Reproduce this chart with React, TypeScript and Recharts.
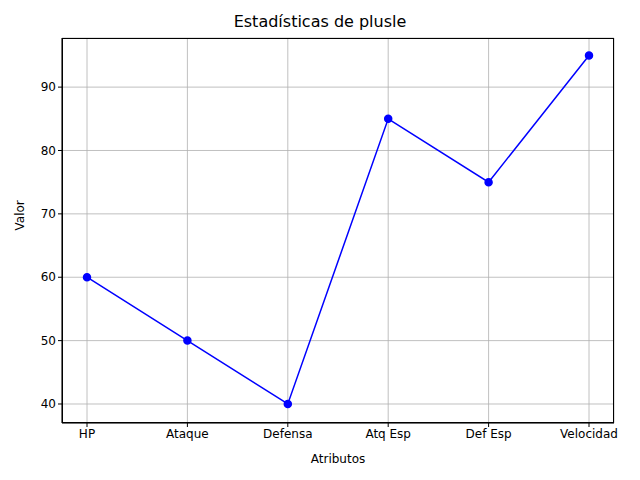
import { LineChart, Line, XAxis, YAxis, CartesianGrid } from 'recharts';

const atributos = ['HP', 'Ataque', 'Defensa', 'Atq Esp', 'Def Esp', 'Velocidad'];
const valores = [60, 50, 40, 85, 75, 95];
const yTicks = [40, 50, 60, 70, 80, 90];

const data = atributos.map((a, i) => ({ atributo: a, valor: valores[i] }));
const font = 'DejaVu Sans, sans-serif';

export default function App() {
  return (
    <div style={{ position: 'absolute', left: 0, top: 0, width: 640, height: 480, background: '#fff', fontFamily: font }}>
      <div style={{ position: 'absolute', top: 12, width: 640, textAlign: 'center', fontSize: 16 }}>
        Estadísticas de plusle
      </div>
      <LineChart width={640} height={480} data={data} margin={{ top: 38, right: 26, left: 0, bottom: 0 }}>
        <CartesianGrid stroke="#b0b0b0" strokeWidth={0.8} />
        <XAxis
          dataKey="atributo"
          scale="point"
          padding={{ left: 25, right: 25 }}
          height={57}
          stroke="#000"
          tickSize={4}
          tick={{ fill: '#000', fontSize: 12, fontFamily: font }}
          label={{ value: 'Atributos', position: 'insideBottom', offset: 17, fill: '#000', fontSize: 12, fontFamily: font }}
        />
        <YAxis
          domain={[37, 97.75]}
          ticks={yTicks}
          width={62}
          stroke="#000"
          tickSize={4}
          tick={{ fill: '#000', fontSize: 12, fontFamily: font }}
          label={{ value: 'Valor', angle: -90, position: 'insideLeft', offset: 20, fill: '#000', fontSize: 12, fontFamily: font }}
        />
        <Line
          dataKey="valor"
          stroke="#0000ff"
          strokeWidth={1.5}
          dot={{ r: 3.5, fill: '#0000ff', stroke: '#0000ff' }}
          isAnimationActive={false}
        />
      </LineChart>
      <div style={{ position: 'absolute', left: 62, top: 38, width: 552, height: 385, border: '1px solid #000', boxSizing: 'border-box', pointerEvents: 'none' }} />
    </div>
  );
}
